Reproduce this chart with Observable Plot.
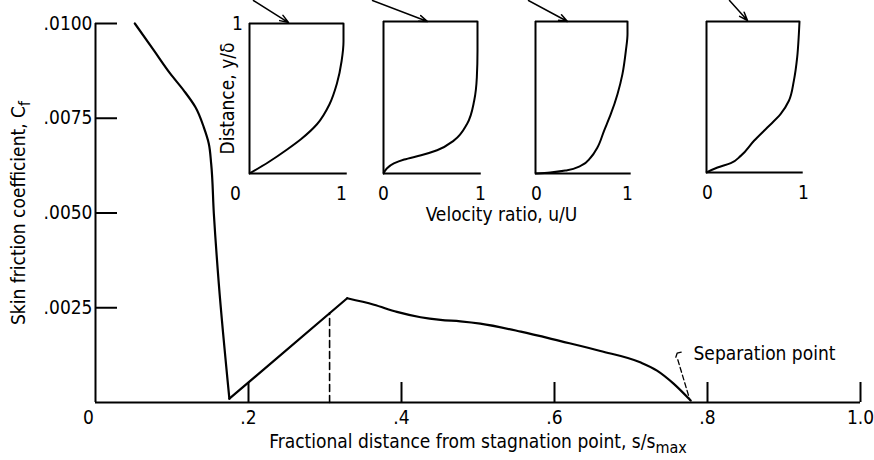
<!DOCTYPE html>
<html>
<head>
<meta charset="utf-8">
<script src="https://cdn.jsdelivr.net/npm/d3@7"></script>
<script src="https://cdn.jsdelivr.net/npm/@observablehq/plot@0.6"></script>
<style>
  body { margin: 0; background: #fff; }
  #chart { position: relative; width: 874px; height: 460px; overflow: hidden; }
  .inset { position: absolute; }
  svg text { font-family: "DejaVu Sans Condensed", "DejaVu Sans", sans-serif; font-stretch: condensed; }
</style>
</head>
<body>
<div id="chart"></div>
<script>
// ---------- Data ----------
// Skin friction coefficient along the surface (three drawn pieces)
const descentX = [0.0514, 0.0763, 0.098, 0.1155, 0.1307, 0.1416, 0.1481, 0.1512, 0.1547, 0.1612, 0.175];
const descentY = [0.0100, 0.00929, 0.00867, 0.00823, 0.00779, 0.00726, 0.00683, 0.00630, 0.00498, 0.00313, 0.0001];
const riseX = [0.175, 0.329];
const riseY = [0.0001, 0.00275];
const declineX = [0.329, 0.364, 0.394, 0.425, 0.451, 0.477, 0.503, 0.556, 0.608, 0.660, 0.712, 0.734, 0.756, 0.778];
const declineY = [0.00275, 0.00258, 0.00239, 0.00225, 0.00218, 0.00214, 0.00208, 0.00187, 0.00162, 0.00136, 0.00106, 0.00084, 0.00049, 0.00005];

// dashed transition marker
const dashX = [0.306, 0.306];
const dashY = [0, 0.00237];

// axis ticks and labels
const xTicks = [0.2, 0.4, 0.6, 0.8, 1.0];
const xTickLabels = [".2", ".4", ".6", ".8", "1.0"];
const yTicks = [0.0025, 0.0050, 0.0075, 0.0100];
const yTickLabels = [".0025", ".0050", ".0075", ".0100"];
const originLabel = "0";
const xTitle = "Fractional distance from stagnation point, s/s";
const xTitleSub = "max";
const yTitle = "Skin friction coefficient, C";
const yTitleSub = "f";

// separation point annotation
const sepLabel = "Separation point";
const sepLabelX = 0.7817, sepLabelY = 0.00127;
const hookX = [0.7656, 0.7603, 0.7586];
const hookY = [0.001327, 0.00130, 0.001195];
const sepDashX = [0.7612, 0.7769];
const sepDashY = [0.001127, 0.000071];

// arrows from the curve to the profiles
const arrowX1 = [0.2065, 0.3621, 0.566, 0.8288];
const arrowY1 = [0.010607, 0.010607, 0.010607, 0.010607];
const arrowX2 = [0.2523, 0.434, 0.617, 0.8523];
const arrowY2 = [0.010026, 0.010053, 0.010053, 0.010079];

// velocity profiles (u/U vs y/delta)
const profile1U = [0, 0.2, 0.4, 0.55, 0.72, 0.85, 0.93, 0.98, 1.0, 1.0];
const profile1Y = [0, 0.075, 0.16, 0.23, 0.33, 0.46, 0.60, 0.75, 0.88, 1.0];
const profile2U = [0, 0.035, 0.11, 0.22, 0.40, 0.57, 0.75, 0.89, 0.965, 0.993, 1.0, 1.0];
const profile2Y = [0, 0.033, 0.066, 0.092, 0.120, 0.153, 0.218, 0.328, 0.48, 0.633, 0.808, 1.0];
const profile3U = [0, 0.16, 0.345, 0.49, 0.6, 0.673, 0.745, 0.818, 0.891, 0.945, 0.982, 1.0, 1.0];
const profile3Y = [0, 0.007, 0.022, 0.05, 0.105, 0.171, 0.281, 0.39, 0.522, 0.654, 0.807, 0.917, 1.0];
const profile4U = [0, 0.118, 0.261, 0.368, 0.511, 0.654, 0.796, 0.886, 0.939, 0.975, 0.993, 1.0];
const profile4Y = [0, 0.033, 0.062, 0.110, 0.210, 0.298, 0.386, 0.475, 0.607, 0.762, 0.916, 1.0];
const insetTicks = [0, 1];
const insetTickLabels = ["0", "1"];
const insetYTitle = "Distance, y/\u03b4";
const insetXTitle = "Velocity ratio, u/U";
const insetXTitleX = 0.5307, insetXTitleY = 0.00496;

// ---------- Layout (pixels) ----------
const FONT = 19;
const insetLayout = [
  {left: 249, top: 23, w: 94, h: 150, dx0: -14, dx1: -2},
  {left: 383, top: 21, w: 94, h: 152, dx0: 0, dx1: 3},
  {left: 535, top: 21, w: 92, h: 152, dx0: 1, dx1: 0},
  {left: 706, top: 21, w: 93, h: 151, dx0: 1, dx1: 4}
];
const profiles = [[profile1U, profile1Y], [profile2U, profile2Y], [profile3U, profile3Y], [profile4U, profile4Y]];

const pts = (xs, ys) => xs.map((x, i) => ({x, y: ys[i]}));
const T = {fontSize: FONT, lineAnchor: "middle"};

// ---------- Main chart ----------
const mainPlot = Plot.plot({
  width: 874, height: 460,
  marginLeft: 95, marginRight: 14, marginTop: 23, marginBottom: 58,
  style: {background: "white", overflow: "visible"},
  x: {domain: [0, 1], axis: null},
  y: {domain: [0, 0.01], axis: null},
  marks: [
    Plot.ruleX([0], {y1: 0, y2: 0.01, stroke: "#000", strokeWidth: 2}),
    Plot.ruleY([0], {x1: 0, x2: 1, stroke: "#000", strokeWidth: 2}),
    Plot.ruleY(yTicks, {y: d => d, insetRight: 743, stroke: "#000", strokeWidth: 2}),
    Plot.ruleX(xTicks, {x: d => d, insetTop: 359, stroke: "#000", strokeWidth: 2}),
    Plot.text(yTicks, {...T, y: d => d, text: (d, i) => yTickLabels[i], frameAnchor: "left", textAnchor: "end", dx: -3}),
    Plot.text(xTicks, {...T, x: d => d, text: (d, i) => xTickLabels[i], frameAnchor: "bottom", textAnchor: "middle", dy: 15}),
    Plot.text([originLabel], {...T, text: d => d, frameAnchor: "bottom-left", textAnchor: "middle", dx: -7, dy: 15}),
    Plot.text([xTitle], {...T, text: d => d, frameAnchor: "bottom", textAnchor: "middle", dy: 39}),
    Plot.text([yTitle], {...T, text: d => d, frameAnchor: "left", textAnchor: "middle", dx: -77, rotate: -90}),
    Plot.line(pts(descentX, descentY), {x: "x", y: "y", curve: "monotone-y", stroke: "#000", strokeWidth: 2.2}),
    Plot.line(pts(riseX, riseY), {x: "x", y: "y", stroke: "#000", strokeWidth: 2.2}),
    Plot.line(pts(declineX, declineY), {x: "x", y: "y", curve: "monotone-x", stroke: "#000", strokeWidth: 2.2}),
    Plot.line(pts(dashX, dashY), {x: "x", y: "y", stroke: "#000", strokeWidth: 1.6, strokeDasharray: "7,4"}),
    Plot.line(pts(hookX, hookY), {x: "x", y: "y", stroke: "#000", strokeWidth: 1.3}),
    Plot.line(pts(sepDashX, sepDashY), {x: "x", y: "y", stroke: "#000", strokeWidth: 1.3, strokeDasharray: "5,3"}),
    Plot.text([sepLabel], {...T, x: sepLabelX, y: sepLabelY, text: d => d, textAnchor: "start"}),
    Plot.text([insetXTitle], {...T, x: insetXTitleX, y: insetXTitleY, text: d => d, textAnchor: "middle"}),
    Plot.arrow(arrowX1.map((x, i) => ({x1: x, y1: arrowY1[i], x2: arrowX2[i], y2: arrowY2[i]})),
      {x1: "x1", y1: "y1", x2: "x2", y2: "y2", stroke: "#000", strokeWidth: 1.5, headLength: 9, headAngle: 40})
  ]
});

// subscripts
mainPlot.querySelectorAll("text").forEach(t => {
  if (t.textContent === xTitle) {
    d3.select(t).append("tspan").attr("dy", "0.35em").style("font-size", "16px").text(xTitleSub);
  } else if (t.textContent === yTitle) {
    d3.select(t).append("tspan").attr("dy", "0.35em").style("font-size", "16px").text(yTitleSub);
  }
});

const chart = document.getElementById("chart");
chart.append(mainPlot);

// ---------- Insets ----------
const ML = 40, MR = 16, MT = 6, MB = 40;
insetLayout.forEach((b, k) => {
  const [us, ys] = profiles[k];
  const marks = [
    Plot.ruleX([0], {y1: 0, y2: 1, stroke: "#000", strokeWidth: 2}),
    Plot.ruleY([1], {x1: 0, x2: 1, stroke: "#000", strokeWidth: 2}),
    Plot.ruleY([0], {x1: 0, x2: 1.04, stroke: "#000", strokeWidth: 2}),
    Plot.line(pts(us, ys), {x: "x", y: "y", curve: "monotone-y", stroke: "#000", strokeWidth: 2}),
    Plot.text([insetTicks[0]], {...T, x: d => d, text: () => insetTickLabels[0], frameAnchor: "bottom", textAnchor: "middle", dy: 20, dx: b.dx0}),
    Plot.text([insetTicks[1]], {...T, x: d => d, text: () => insetTickLabels[1], frameAnchor: "bottom", textAnchor: "middle", dy: 20, dx: b.dx1})
  ];
  if (k === 0) {
    marks.push(
      Plot.text([insetTicks[1]], {...T, y: d => d, text: () => insetTickLabels[1], frameAnchor: "left", textAnchor: "middle", dx: -12}),
      Plot.text([insetYTitle], {...T, text: d => d, frameAnchor: "left", textAnchor: "middle", dx: -22, rotate: -90})
    );
  }
  const p = Plot.plot({
    width: ML + b.w + MR, height: MT + b.h + MB,
    marginLeft: ML, marginRight: MR, marginTop: MT, marginBottom: MB,
    style: {background: "transparent", overflow: "visible"},
    x: {domain: [0, 1], axis: null},
    y: {domain: [0, 1], axis: null},
    marks
  });
  const div = document.createElement("div");
  div.className = "inset";
  div.style.left = (b.left - ML) + "px";
  div.style.top = (b.top - MT) + "px";
  div.append(p);
  chart.append(div);
});
</script>
</body>
</html>
